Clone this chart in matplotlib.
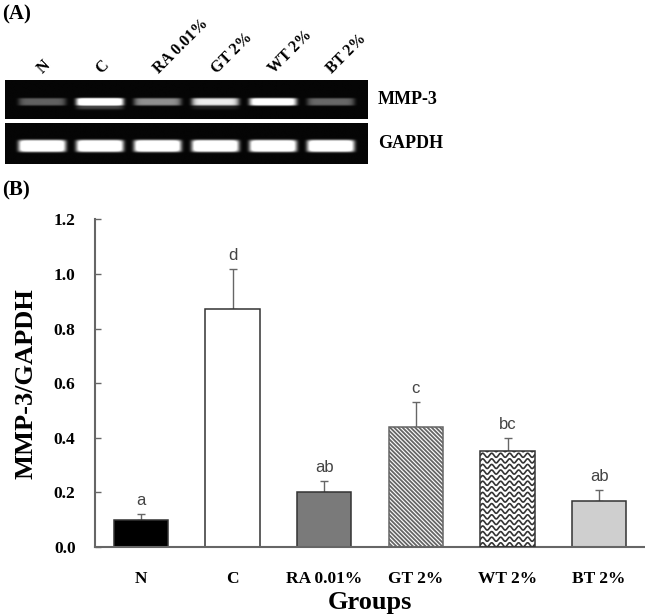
import numpy as np
import matplotlib
matplotlib.use("Agg")
import matplotlib.pyplot as plt

plt.rcParams['font.family'] = ['Liberation Serif', 'DejaVu Serif']
plt.rcParams['hatch.linewidth'] = 1.3

# data
groups = ['N', 'C', 'RA 0.01%', 'GT 2%', 'WT 2%', 'BT 2%']
ratio = [0.10, 0.87, 0.20, 0.44, 0.35, 0.17]
ratio_err = [0.02, 0.15, 0.04, 0.09, 0.05, 0.04]
letters = ['a', 'd', 'ab', 'c', 'bc', 'ab']
# band brightness on the gel (0..1)
mmp3_band = [0.28, 1.0, 0.42, 0.70, 0.88, 0.30]
mmp3_lower = [0.0, 0.25, 0.0, 0.10, 0.0, 0.0]
gapdh_band = [1.0, 1.0, 1.0, 1.0, 1.0, 1.0]

fig = plt.figure(figsize=(6.45, 6.14), dpi=100)
W, H = 645.0, 614.0


def px_axes(x0, y0, x1, y1):
    # axes from pixel box (top-left origin)
    return fig.add_axes([x0 / W, 1 - y1 / H, (x1 - x0) / W, (y1 - y0) / H])


# ---------- (A) gel ----------
def gel_image(levels, yc, hh, hw, lower=None):
    xs = np.linspace(-0.64, 5.64, 700)
    ys = np.linspace(0, 1, 80)
    X, Y = np.meshgrid(xs, ys)
    img = np.full(X.shape, 0.02)
    for i, lv in enumerate(levels):
        prof_x = np.exp(-((X - i) / hw) ** 10)
        img += 1.3 * lv * prof_x * np.exp(-((Y - yc) / hh) ** 6)
        if lower is not None and lower[i] > 0:
            img += lower[i] * prof_x * np.exp(-((Y - yc - 0.15) / 0.05) ** 2)
    return np.clip(img, 0, 1)


ax_top = px_axes(5, 80, 368, 119)
ax_top.imshow(gel_image(mmp3_band, 0.56, 0.10, 0.41, mmp3_lower), cmap='gray',
              vmin=0, vmax=1, aspect='auto', extent=(-0.64, 5.64, 1, 0),
              interpolation='bilinear')
ax_top.set_axis_off()

ax_bot = px_axes(5, 123, 368, 164)
ax_bot.imshow(gel_image(gapdh_band, 0.56, 0.15, 0.41), cmap='gray',
              vmin=0, vmax=1, aspect='auto', extent=(-0.64, 5.64, 1, 0),
              interpolation='bilinear')
ax_bot.set_axis_off()

for i, g in enumerate(groups):
    ax_top.text(i + 0.02, -0.15, g, rotation=45, rotation_mode='anchor',
                ha='left', va='baseline', fontsize=11.5, fontweight='bold',
                transform=ax_top.transData, clip_on=False)

fig.text(378 / W, 1 - 100 / H, 'MMP-3', fontsize=13, fontweight='bold',
         ha='left', va='center')
fig.text(378 / W, 1 - 143 / H, 'GAPDH', fontsize=13, fontweight='bold',
         ha='left', va='center')
fig.text(2 / W, 1 - 14 / H, '(A)', fontsize=15, fontweight='bold',
         ha='left', va='center')
fig.text(2 / W, 1 - 190 / H, '(B)', fontsize=15, fontweight='bold',
         ha='left', va='center')

# ---------- (B) bar chart ----------
ax = px_axes(95, 219.4, 645, 547)
x = np.arange(len(groups))
faces = ['black', 'white', '#7a7a7a', 'white', 'white', '#cfcfcf']
bars = ax.bar(x, ratio, width=0.59, color=faces, edgecolor='#333333',
              linewidth=1.1, zorder=2)
bars[3].set_hatch('\\' * 8)
bars[3].set_edgecolor('#666666')

ax.errorbar(x, ratio, yerr=[np.zeros(len(ratio)), ratio_err], fmt='none',
            ecolor='#666666', elinewidth=1.0, capsize=3.2, capthick=1.0,
            zorder=1)

# wavy fill for WT bar
wt = bars[4]
x0, w = wt.get_x(), wt.get_width()
xx = np.linspace(x0, x0 + w, 300)
for lvl in np.arange(0.008, ratio[4] + 0.02, 0.0205):
    ln, = ax.plot(xx, lvl + 0.0075 * np.sin(2 * np.pi * (xx - x0) / 0.098),
                  color='#333333', lw=1.2, zorder=3)
    ln.set_clip_path(wt)
wt.set_zorder(3)
wt.set_facecolor('none')
ax.bar(x[4], ratio[4], width=0.59, color='white', edgecolor='none', zorder=2)

for i, (v, e, t) in enumerate(zip(ratio, ratio_err, letters)):
    ax.text(i, v + e + 0.022, t, ha='center', va='bottom', fontsize=12,
            color='#444444', family=['Liberation Sans', 'DejaVu Sans'])

ax.set_xlim(-0.5, 5.5)
ax.set_ylim(0, 1.2)
ax.set_yticks(np.arange(0, 1.21, 0.2))
ax.set_yticklabels(['%.1f' % v for v in np.arange(0, 1.21, 0.2)],
                   fontsize=12.5, fontweight='bold')
ax.set_xticks(x)
ax.set_xticklabels(groups, fontsize=12.5, fontweight='bold')
ax.tick_params(axis='y', direction='in', length=4, width=1, color='#666666',
               pad=14)
ax.tick_params(axis='x', length=0, pad=17)
for s in ['top', 'right']:
    ax.spines[s].set_visible(False)
for s in ['left', 'bottom']:
    ax.spines[s].set_color('#666666')
    ax.spines[s].set_linewidth(1.5)
ax.set_ylabel('MMP-3/GAPDH', fontsize=19, fontweight='bold', labelpad=12)
ax.set_xlabel('Groups', fontsize=19, fontweight='bold', labelpad=3)

fig.savefig('out.png', dpi=100)
